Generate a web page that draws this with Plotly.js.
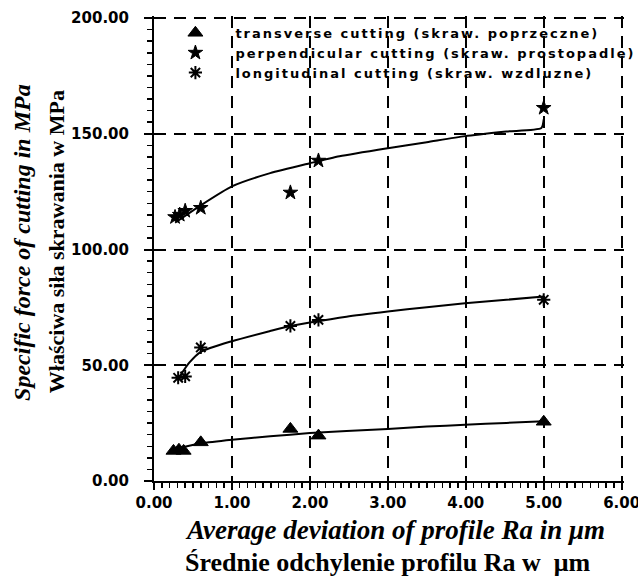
<!DOCTYPE html>
<html>
<head>
<meta charset="utf-8">
<script src="https://cdn.plot.ly/plotly-3.0.1.min.js"></script>
<style>
html,body{margin:0;padding:0;background:#fff;overflow:hidden;}
#chart{width:638px;height:576px;}
#chart .legendtext{letter-spacing:2px;}
#chart .legend .scrollbox{clip-path:none !important;}
</style>
</head>
<body>
<div id="chart"></div>
<script>
// Measured points (Ra in µm, specific force in MPa)
const transX = [0.25, 0.32, 0.38, 0.60, 1.75, 2.11, 5.00];
const transY = [13.0, 13.5, 13.0, 16.7, 22.5, 19.6, 25.6];
const perpX = [0.27, 0.33, 0.40, 0.60, 1.75, 2.11, 5.00];
const perpY = [114.0, 115.0, 116.7, 118.0, 124.6, 138.4, 161.2];
const longX = [0.31, 0.40, 0.60, 1.75, 2.11, 5.00];
const longY = [44.6, 45.2, 57.7, 67.0, 69.6, 78.3];

// Fitted trend curves
const perpFitX = [0.27, 0.60, 1.00, 1.49, 2.00, 2.38, 3.00, 3.50, 3.99, 4.52, 4.97, 5.00];
const perpFitY = [111.6, 119.1, 127.3, 133.0, 137.3, 140.3, 143.8, 146.4, 149.0, 151.0, 152.5, 156.2];
const longFitX = [0.33, 0.45, 0.60, 1.00, 1.49, 1.75, 2.00, 2.47, 3.00, 3.50, 3.99, 4.52, 5.00];
const longFitY = [45.2, 51.0, 55.8, 60.4, 64.8, 67.0, 68.5, 71.0, 73.2, 75.1, 76.8, 78.3, 79.7];
const transFitX = [0.35, 0.60, 1.00, 1.49, 2.00, 2.47, 3.00, 3.50, 3.99, 4.52, 5.00];
const transFitY = [14.5, 16.2, 17.8, 19.3, 20.7, 21.6, 22.5, 23.5, 24.3, 25.1, 25.8];

const legendNames = [
  "transverse cutting (skraw. poprzeczne)",
  "perpendicular cutting (skraw. prostopadle)",
  "longitudinal cutting (skraw. wzdluzne)"
];
const xTickVals = [0, 1, 2, 3, 4, 5, 6];
const xTickText = ["0.00", "1.00", "2.00", "3.00", "4.00", "5.00", "6.00"];
const yTickVals = [0, 50, 100, 150, 200];
const yTickText = ["0.00", "50.00", "100.00", "150.00", "200.00"];

const fitLine = {color: "#000", width: 2, shape: "spline", smoothing: 0.6};

const traces = [
  {x: transFitX, y: transFitY, mode: "lines", line: fitLine, showlegend: false, hoverinfo: "skip"},
  {x: longFitX, y: longFitY, mode: "lines", line: fitLine, showlegend: false, hoverinfo: "skip"},
  {x: perpFitX, y: perpFitY, mode: "lines", line: fitLine, showlegend: false, hoverinfo: "skip"},
  {x: transX, y: transY, mode: "markers", name: legendNames[0],
   marker: {symbol: "triangle-up", size: 13, color: "#000", line: {color: "#000", width: 1}}},
  {x: perpX, y: perpY, mode: "markers", name: legendNames[1],
   marker: {symbol: "star", size: 11, color: "#000", line: {color: "#000", width: 1}}},
  {x: longX, y: longY, mode: "markers", name: legendNames[2],
   marker: {symbol: "asterisk-open", size: 11, color: "#000", line: {color: "#000", width: 2}}}
];

const tickFont = {family: "DejaVu Sans", size: 15, color: "#000", weight: "bold"};
const serif = "Liberation Serif";

const layout = {
  width: 638, height: 576,
  margin: {l: 154, r: 14, t: 16, b: 95},
  paper_bgcolor: "#fff", plot_bgcolor: "#fff",
  showlegend: true,
  legend: {x: 0.003, y: 0.996, xanchor: "left", yanchor: "top", bgcolor: "rgba(0,0,0,0)",
           font: {family: "DejaVu Sans", size: 13, color: "#000", weight: "bold"},
           itemwidth: 70, tracegroupgap: 0},
  xaxis: {
    range: [0, 6.03], tickvals: xTickVals, ticktext: xTickText,
    showline: true, linecolor: "#000", linewidth: 2,
    ticks: "outside", ticklen: 7, tickwidth: 2, tickcolor: "#000",
    minor: {dtick: 0.1, ticks: "outside", ticklen: 5, tickwidth: 1.5, tickcolor: "#000", showgrid: false},
    showgrid: true, gridcolor: "#000", gridwidth: 2, griddash: "12px,8px",
    zeroline: false, tickfont: tickFont, ticklabeloverflow: "allow", fixedrange: true
  },
  yaxis: {
    range: [0, 200.9], tickvals: yTickVals, ticktext: yTickText,
    showline: true, linecolor: "#000", linewidth: 2,
    ticks: "outside", ticklen: 8, tickwidth: 2, tickcolor: "#000",
    minor: {dtick: 5, ticks: "outside", ticklen: 5, tickwidth: 1.5, tickcolor: "#000", showgrid: false},
    showgrid: true, gridcolor: "#000", gridwidth: 2, griddash: "12px,8px",
    zeroline: false, tickfont: tickFont, ticklabelstandoff: 12, ticklabeloverflow: "allow", fixedrange: true
  },
  annotations: [
    {text: "<i>Specific force of cutting in MPa</i>", xref: "paper", yref: "paper",
     x: -0.281, y: 0.514, xanchor: "center", yanchor: "middle", textangle: -90, showarrow: false,
     font: {family: serif, size: 24, color: "#000", weight: "bold"}},
    {text: "Właściwa siła skrawania w MPa", xref: "paper", yref: "paper",
     x: -0.206, y: 0.514, xanchor: "center", yanchor: "middle", textangle: -90, showarrow: false,
     font: {family: serif, size: 22, color: "#000", weight: "bold"}},
    {text: "<i>Average deviation of profile Ra in μm</i>", xref: "paper", yref: "paper",
     x: 0.062, y: -0.106, xanchor: "left", yanchor: "middle", showarrow: false,
     font: {family: serif, size: 27, color: "#000", weight: "bold"}},
    {text: "Średnie odchylenie profilu Ra w  μm", xref: "paper", yref: "paper",
     x: 0.062, y: -0.175, xanchor: "left", yanchor: "middle", showarrow: false,
     font: {family: serif, size: 26, color: "#000", weight: "bold"}}
  ]
};

Plotly.newPlot("chart", traces, layout, {displayModeBar: false, staticPlot: true});
</script>
</body>
</html>
